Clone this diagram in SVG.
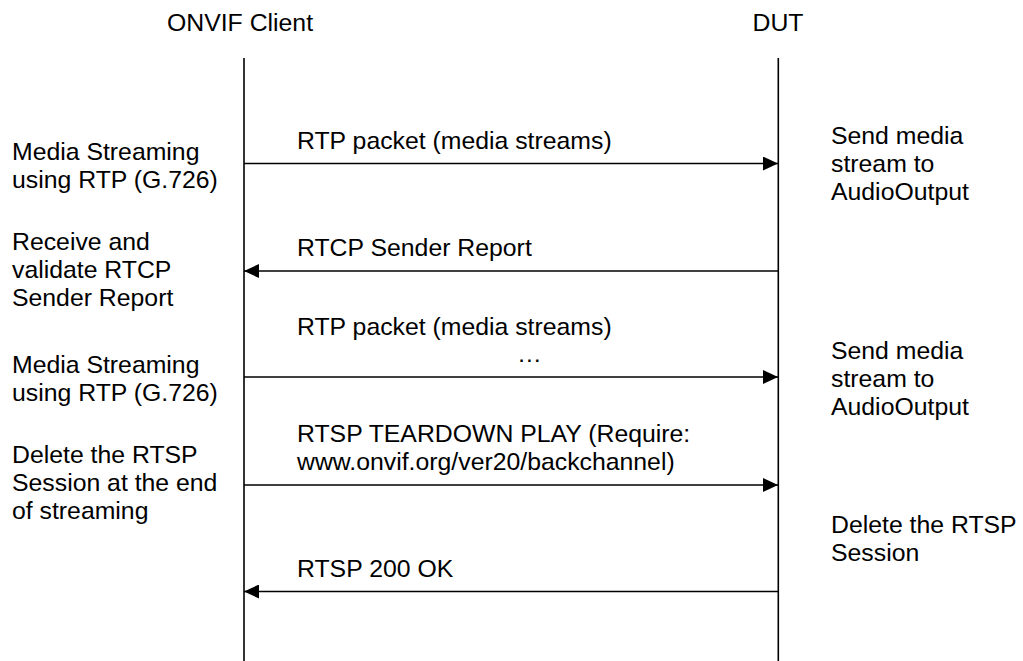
<svg xmlns="http://www.w3.org/2000/svg" width="1023" height="661" viewBox="0 0 1023 661">
  <style>
    text { font-family: "Liberation Sans", Arial, sans-serif; font-size: 24.8px; fill: #000; }
    .life { stroke: #000; stroke-width: 1.6; fill: none; }
    .msg { stroke: #000; stroke-width: 1.4; fill: none; }
  </style>
  <defs>
    <marker id="ah" viewBox="0 0 15 14" refX="15" refY="7" markerWidth="15" markerHeight="14" markerUnits="userSpaceOnUse" orient="auto">
      <path d="M0,0 L15,7 L0,14 Z" fill="#000"/>
    </marker>
  </defs>
  <rect width="1023" height="661" fill="#fff"/>

  <g id="client">
    <text x="240" y="31" text-anchor="middle">ONVIF Client</text>
    <line class="life" x1="244" y1="58" x2="244" y2="661"/>
  </g>
  <g id="dut">
    <text x="778" y="31" text-anchor="middle">DUT</text>
    <line class="life" x1="778.3" y1="58" x2="778.3" y2="661"/>
  </g>

  <g id="connectors">
    <line class="msg" x1="244" y1="163.5" x2="778" y2="163.5" marker-end="url(#ah)"/>
    <line class="msg" x1="778" y1="271" x2="244" y2="271" marker-end="url(#ah)"/>
    <line class="msg" x1="244" y1="377" x2="778" y2="377" marker-end="url(#ah)"/>
    <line class="msg" x1="244" y1="485" x2="778" y2="485" marker-end="url(#ah)"/>
    <line class="msg" x1="778" y1="591.5" x2="244" y2="591.5" marker-end="url(#ah)"/>
  </g>

  <g id="labels">
    <text x="297" y="149">RTP packet (media streams)</text>
    <text x="297" y="256">RTCP Sender Report</text>
    <text x="297" y="335">RTP packet (media streams)</text>
    <text x="517" y="362">…</text>
    <text x="297" y="442">RTSP TEARDOWN PLAY (Require:</text>
    <text x="297" y="470">www.onvif.org/ver20/backchannel)</text>
    <text x="297" y="577">RTSP 200 OK</text>
  </g>

  <g id="client-notes">
    <text x="12" y="160">Media Streaming</text>
    <text x="12" y="188">using RTP (G.726)</text>
    <text x="12" y="250">Receive and</text>
    <text x="12" y="278">validate RTCP</text>
    <text x="12" y="306">Sender Report</text>
    <text x="12" y="373">Media Streaming</text>
    <text x="12" y="401">using RTP (G.726)</text>
    <text x="12" y="463">Delete the RTSP</text>
    <text x="12" y="491">Session at the end</text>
    <text x="12" y="519">of streaming</text>
  </g>

  <g id="dut-notes">
    <text x="831" y="144">Send media</text>
    <text x="831" y="172">stream to</text>
    <text x="831" y="200">AudioOutput</text>
    <text x="831" y="359">Send media</text>
    <text x="831" y="387">stream to</text>
    <text x="831" y="415">AudioOutput</text>
    <text x="831" y="533">Delete the RTSP</text>
    <text x="831" y="561">Session</text>
  </g>
</svg>
